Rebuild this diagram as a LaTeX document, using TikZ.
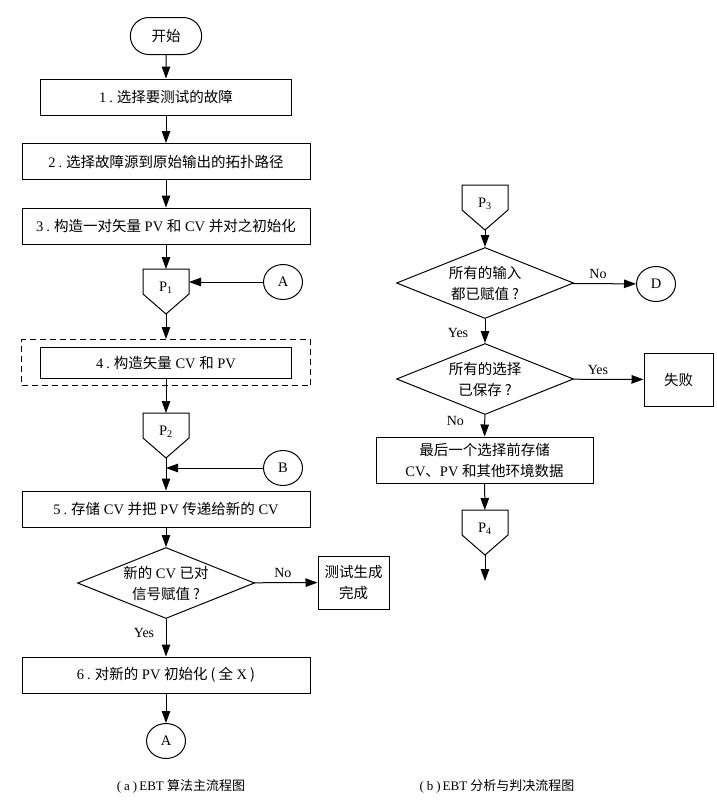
\documentclass[tikz,border=0pt]{standalone}
\usepackage{fontspec}
\setmainfont{Liberation Serif}
\newfontfamily\cjk{Noto Sans CJK SC}
\usetikzlibrary{shapes.geometric,shapes.misc,arrows.meta,fit}
\newcommand\zh[1]{{\cjk #1}}
\newcommand\dotsep[1]{#1\hspace{3pt}.\hspace{4pt}}

\begin{document}
\begin{tikzpicture}[x=1pt,y=-1pt,line width=1pt,font=\fontsize{14.5}{21}\selectfont,
  box/.style={draw,minimum height=36pt,inner ysep=2pt,align=center},
  decide/.style={draw,diamond,aspect=2.5,inner sep=0pt,minimum width=177pt,minimum height=71pt,align=center},
  page/.style={minimum width=45pt,minimum height=44pt,inner sep=0pt,text height=5pt,text depth=5pt},
  joint/.style={draw,ellipse,minimum width=39pt,minimum height=35pt,inner sep=0pt},
  flow/.style={-{Triangle[length=12pt,width=8.5pt]}},
  tag/.style={font=\fontsize{14}{16}\selectfont},
  caption/.style={font=\fontsize{13}{15}\selectfont}]
  \useasboundingbox (0,0) rectangle (717,806);
  \node[draw,rounded rectangle,minimum width=78pt,minimum height=37pt] (start) at (166,36) {\zh{开始}};
  \node[box,minimum width=251pt] (s1) at (166,97) {\dotsep{1}\zh{选择要测试的故障}};
  \node[box,minimum width=288pt] (s2) at (166,161.5) {\dotsep{2}\zh{选择故障源到原始输出的拓扑路径}};
  \node[box,minimum width=288pt] (s3) at (166,226) {\dotsep{3}\zh{构造一对矢量} PV \zh{和} CV \zh{并对之初始化}};
  \node[page,anchor=north] (p1) at (166,269) {P\textsubscript{1}};
  \node[joint] (a1) at (283,282) {A};
  \node[box,minimum width=251pt,minimum height=31pt] (s4) at (166,362.5) {\dotsep{4}\zh{构造矢量} CV \zh{和} PV};
  \node[draw,dash pattern=on 6pt off 4pt,fit=(s4),inner xsep=18.5pt,inner ysep=7pt] (frame) {};
  \node[page,anchor=north] (p2) at (166,413) {P\textsubscript{2}};
  \node[joint] (b) at (283,468) {B};
  \node[box,minimum width=288pt] (s5) at (166,509) {\dotsep{5}\zh{存储} CV \zh{并把} PV \zh{传递给新的} CV};
  \node[decide] (q1) at (166,583) {\zh{新的} CV \zh{已对}\\\zh{信号赋值\hspace{3pt}?}};
  \node[box,minimum width=71pt,minimum height=53pt] (done) at (353.5,582.5) {\zh{测试生成}\\\zh{完成}};
  \node[box,minimum width=288pt] (s6) at (166,675) {\dotsep{6}\zh{对新的} PV \zh{初始化\hspace{3pt}(\hspace{3pt}全} X\hspace{3pt}\zh{)}};
  \node[joint] (a2) at (166,741) {A};
  \node[caption] (capa) at (181,786) {(\hspace{3pt}a\hspace{3pt})\hspace{2pt}EBT \zh{算法主流程图}};

  \node[page,anchor=north] (p3) at (485,185) {P\textsubscript{3}};
  \node[decide] (q2) at (485,283) {\zh{所有的输入}\\\zh{都已赋值\hspace{3pt}?}};
  \node[joint] (d) at (656,284) {D};
  \node[decide] (q3) at (485,379) {\zh{所有的选择}\\\zh{已保存\hspace{3pt}?}};
  \node[box,minimum width=69pt,minimum height=53pt] (fail) at (678.5,379.5) {\zh{失败}};
  \node[box,minimum width=217pt,minimum height=46pt] (s7) at (484.5,460) {\zh{最后一个选择前存储}\\CV\zh{、}PV \zh{和其他环境数据}};
  \node[page,anchor=north] (p4) at (485,510) {P\textsubscript{4}};
  \coordinate (out) at (485,581);
  \node[caption] (capb) at (497,786) {(\hspace{3pt}b\hspace{3pt})\hspace{2pt}EBT \zh{分析与判决流程图}};

  \foreach \p in {p1,p2,p3,p4}
    \draw (\p.north west) -- (\p.north east) -- ([yshift=20pt]\p.south east) -- (\p.south)
      -- ([yshift=20pt]\p.south west) -- cycle;

  \draw[flow] (start) -- (s1);
  \draw[flow] (s1) -- (s2);
  \draw[flow] (s2) -- (s3);
  \draw[flow] (s3) -- (p1);
  \draw[flow] (a1) -- (a1 -| p1.east);
  \draw[flow] (p1.south) -- (frame.north);
  \draw[flow] (s4) -- (p2);
  \draw[flow] (p2.south) -- (s5.north);
  \draw[flow] (b) -- (b -| p2.south);
  \draw[flow] (s5) -- (q1);
  \draw[flow] (q1) -- node[tag,above=1pt,pos=0.45] {No} (done);
  \draw[flow] (q1) -- node[tag,left=8pt,pos=0.38] {Yes} (s6);
  \draw[flow] (s6) -- (a2);

  \draw[flow] (p3.south) -- (q2.north);
  \draw[flow] (q2) -- node[tag,above=1pt,pos=0.4] {No} (d);
  \draw[flow] (q2) -- node[tag,left=13pt,pos=0.58] {Yes} (q3);
  \draw[flow] (q3) -- node[tag,above=1pt,pos=0.35] {Yes} (fail);
  \draw[flow] (q3) -- node[tag,left=17pt,pos=0.3] {No} (s7);
  \draw[flow] (s7) -- (p4);
  \draw[flow] (p4.south) -- (out);
\end{tikzpicture}
\end{document}
